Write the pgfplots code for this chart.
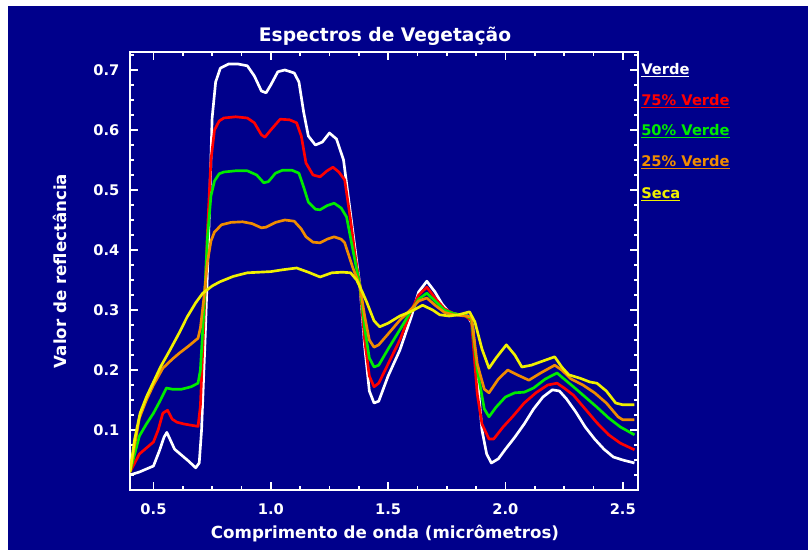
\documentclass[border=0pt]{standalone}
\usepackage{fontspec}
\setmainfont{DejaVu Sans}
\usepackage{pgfplots}
\pgfplotsset{compat=1.18}
\definecolor{navybg}{RGB}{0,0,139}
\definecolor{cred}{RGB}{255,0,0}
\definecolor{cgreen}{RGB}{0,235,0}
\definecolor{corange}{RGB}{240,140,0}
\definecolor{cyellow}{RGB}{240,240,0}
\begin{document}
\begin{tikzpicture}
\useasboundingbox (0pt,0pt) rectangle (606pt,412.5pt);
\fill[white] (0pt,0pt) rectangle (606pt,412.5pt);
\fill[navybg] (6pt,0pt) rectangle (606pt,408pt);
\begin{axis}[
  at={(97.5pt,45pt)}, anchor=south west,
  scale only axis, width=381pt, height=328.5pt,
  xmin=0.4, xmax=2.565, ymin=0, ymax=0.73,
  xtick={0.5,1.0,1.5,2.0,2.5},
  minor xtick={0.625,0.75,0.875,1.125,1.25,1.375,1.625,1.75,1.875,2.125,2.25,2.375},
  ytick={0.1,0.2,0.3,0.4,0.5,0.6,0.7},
  minor ytick={0.025,0.05,0.075,0.125,0.15,0.175,0.225,0.25,0.275,0.325,0.35,0.375,0.425,0.45,0.475,0.525,0.55,0.575,0.625,0.65,0.675,0.725},
  /pgf/number format/assume math mode=true,
  tick label style={font=\fontsize{11}{13}\selectfont\bfseries, text=white,
    /pgf/number format/fixed, /pgf/number format/fixed zerofill, /pgf/number format/precision=1},
  xticklabel style={yshift=-7pt},
  yticklabel style={xshift=-4.5pt},
  axis line style={white, line width=1.5pt},
  tick style={white, line width=1.2pt},
  major tick length=6pt, minor tick length=3pt,
  tick align=inside,
  xtick pos=both, ytick pos=both,
  clip=true,
  every axis plot/.append style={line width=2pt, line join=round},
]
% Verde
\addplot[white] coordinates {
(0.40,0.025) (0.44,0.030) (0.50,0.040) (0.525,0.065) (0.545,0.088) (0.557,0.096)
(0.57,0.085) (0.59,0.068) (0.62,0.058) (0.65,0.048) (0.68,0.037) (0.695,0.045)
(0.705,0.10) (0.72,0.25) (0.735,0.42) (0.75,0.62) (0.765,0.68) (0.785,0.703)
(0.82,0.710) (0.86,0.710) (0.90,0.707) (0.93,0.690) (0.96,0.665) (0.98,0.662)
(1.00,0.675) (1.03,0.697) (1.06,0.700) (1.10,0.695) (1.12,0.680) (1.14,0.630)
(1.16,0.590) (1.19,0.575) (1.22,0.580) (1.25,0.595) (1.28,0.585) (1.31,0.550)
(1.34,0.46) (1.36,0.40) (1.38,0.34) (1.40,0.24) (1.42,0.165) (1.44,0.145)
(1.46,0.148) (1.50,0.190) (1.55,0.233) (1.60,0.290) (1.63,0.330) (1.665,0.348)
(1.70,0.330) (1.73,0.310) (1.76,0.296) (1.80,0.292) (1.84,0.290) (1.86,0.275)
(1.88,0.190) (1.90,0.100) (1.92,0.060) (1.94,0.045) (1.97,0.052) (2.00,0.068)
(2.04,0.088) (2.08,0.110) (2.12,0.135) (2.16,0.155) (2.20,0.167) (2.23,0.165)
(2.26,0.152) (2.30,0.130) (2.34,0.105) (2.38,0.085) (2.42,0.068) (2.46,0.055)
(2.50,0.050) (2.55,0.045)
};
% 75% Verde
\addplot[cred] coordinates {
(0.40,0.030) (0.42,0.045) (0.44,0.060) (0.47,0.070) (0.50,0.080) (0.52,0.100)
(0.54,0.128) (0.56,0.133) (0.58,0.118) (0.60,0.113) (0.63,0.110) (0.66,0.108)
(0.69,0.106) (0.70,0.14) (0.715,0.28) (0.73,0.43) (0.745,0.55) (0.76,0.60)
(0.78,0.615) (0.80,0.620) (0.85,0.622) (0.90,0.620) (0.93,0.612) (0.96,0.592)
(0.975,0.588) (1.00,0.600) (1.04,0.618) (1.08,0.617) (1.11,0.612) (1.13,0.590)
(1.15,0.545) (1.18,0.525) (1.21,0.522) (1.24,0.532) (1.265,0.538) (1.29,0.530)
(1.315,0.517) (1.34,0.45) (1.36,0.39) (1.38,0.34) (1.40,0.25) (1.42,0.19)
(1.44,0.172) (1.46,0.178) (1.50,0.210) (1.55,0.250) (1.60,0.300) (1.63,0.325)
(1.665,0.338) (1.70,0.320) (1.74,0.302) (1.78,0.294) (1.83,0.290) (1.855,0.282)
(1.88,0.160) (1.90,0.110) (1.93,0.085) (1.95,0.085) (1.99,0.105) (2.03,0.122)
(2.08,0.145) (2.13,0.162) (2.18,0.175) (2.22,0.178) (2.25,0.170) (2.29,0.158)
(2.34,0.135) (2.39,0.112) (2.44,0.092) (2.49,0.078) (2.55,0.067)
};
% 50% Verde
\addplot[cgreen] coordinates {
(0.40,0.030) (0.42,0.060) (0.44,0.090) (0.47,0.110) (0.50,0.128) (0.53,0.150)
(0.555,0.170) (0.58,0.168) (0.62,0.168) (0.66,0.172) (0.69,0.178) (0.70,0.20)
(0.715,0.30) (0.73,0.42) (0.745,0.49) (0.76,0.515) (0.78,0.527) (0.80,0.530)
(0.85,0.532) (0.90,0.532) (0.94,0.525) (0.97,0.512) (0.99,0.514) (1.02,0.528)
(1.05,0.533) (1.09,0.533) (1.12,0.528) (1.14,0.505) (1.16,0.480) (1.19,0.468)
(1.21,0.467) (1.24,0.474) (1.27,0.478) (1.30,0.470) (1.323,0.455) (1.35,0.40)
(1.38,0.34) (1.40,0.27) (1.42,0.22) (1.44,0.205) (1.46,0.208) (1.50,0.235)
(1.55,0.267) (1.60,0.300) (1.63,0.318) (1.665,0.328) (1.70,0.315) (1.74,0.300)
(1.78,0.294) (1.83,0.291) (1.855,0.285) (1.88,0.200) (1.91,0.135) (1.93,0.122)
(1.96,0.138) (2.00,0.155) (2.04,0.162) (2.08,0.163) (2.12,0.170) (2.17,0.185)
(2.22,0.195) (2.25,0.185) (2.29,0.172) (2.34,0.155) (2.39,0.138) (2.44,0.120)
(2.49,0.105) (2.55,0.092)
};
% 25% Verde
\addplot[corange] coordinates {
(0.40,0.030) (0.42,0.075) (0.44,0.120) (0.47,0.150) (0.50,0.175) (0.54,0.203)
(0.58,0.218) (0.61,0.228) (0.65,0.240) (0.69,0.253) (0.70,0.27) (0.715,0.32)
(0.73,0.38) (0.745,0.415) (0.76,0.430) (0.79,0.442) (0.83,0.446) (0.88,0.447)
(0.92,0.444) (0.96,0.437) (0.98,0.438) (1.02,0.446) (1.06,0.450) (1.10,0.448)
(1.13,0.435) (1.15,0.422) (1.18,0.413) (1.21,0.412) (1.24,0.418) (1.27,0.422)
(1.30,0.418) (1.315,0.412) (1.35,0.37) (1.38,0.34) (1.40,0.29) (1.42,0.25)
(1.44,0.238) (1.46,0.242) (1.50,0.260) (1.55,0.283) (1.60,0.302) (1.63,0.315)
(1.665,0.320) (1.70,0.308) (1.74,0.296) (1.78,0.292) (1.83,0.290) (1.855,0.288)
(1.88,0.210) (1.91,0.168) (1.93,0.162) (1.97,0.185) (2.01,0.200) (2.05,0.192)
(2.10,0.183) (2.15,0.195) (2.21,0.208) (2.24,0.200) (2.28,0.185) (2.33,0.175)
(2.38,0.162) (2.43,0.145) (2.48,0.122) (2.50,0.117) (2.55,0.117)
};
% Seca
\addplot[cyellow] coordinates {
(0.40,0.030) (0.42,0.085) (0.443,0.128) (0.47,0.155) (0.50,0.180) (0.53,0.205)
(0.57,0.233) (0.61,0.262) (0.643,0.288) (0.68,0.312) (0.71,0.328) (0.75,0.340)
(0.783,0.347) (0.84,0.356) (0.90,0.362) (0.95,0.363) (1.00,0.364) (1.05,0.367)
(1.11,0.370) (1.16,0.363) (1.21,0.355) (1.26,0.362) (1.306,0.363) (1.34,0.362)
(1.366,0.350) (1.39,0.330) (1.41,0.312) (1.44,0.282) (1.464,0.272) (1.50,0.278)
(1.55,0.290) (1.60,0.298) (1.647,0.308) (1.69,0.300) (1.72,0.292) (1.76,0.290)
(1.80,0.292) (1.847,0.297) (1.87,0.280) (1.90,0.235) (1.93,0.203) (1.96,0.220)
(2.004,0.242) (2.04,0.225) (2.07,0.205) (2.11,0.208) (2.16,0.215) (2.21,0.222)
(2.24,0.205) (2.27,0.192) (2.32,0.186) (2.36,0.180) (2.39,0.178) (2.43,0.165)
(2.47,0.145) (2.50,0.142) (2.55,0.142)
};
\end{axis}
% title and labels
\node[text=white, font=\fontsize{14}{16}\selectfont\bfseries] at (288.75pt,385pt) {Espectros de Vegetação};
\node[text=white, font=\fontsize{12.5}{15}\selectfont\bfseries] at (288.75pt,12.5pt) {Comprimento de onda (micrômetros)};
\node[text=white, font=\fontsize{12.5}{15}\selectfont\bfseries, rotate=90] at (45pt,209.25pt) {Valor de reflectância};
% legend
\begin{scope}[every node/.style={anchor=west, inner xsep=0pt, font=\fontsize{11}{13}\selectfont\bfseries}]
\node[text=white] at (480.75pt,360pt) {\underline{Verde}};
\node[text=cred] at (480.75pt,336.75pt) {\underline{75\% Verde}};
\node[text=cgreen] at (480.75pt,314.25pt) {\underline{50\% Verde}};
\node[text=corange] at (480.75pt,291pt) {\underline{25\% Verde}};
\node[text=cyellow] at (480.75pt,267pt) {\underline{Seca}};
\end{scope}
\end{tikzpicture}
\end{document}
